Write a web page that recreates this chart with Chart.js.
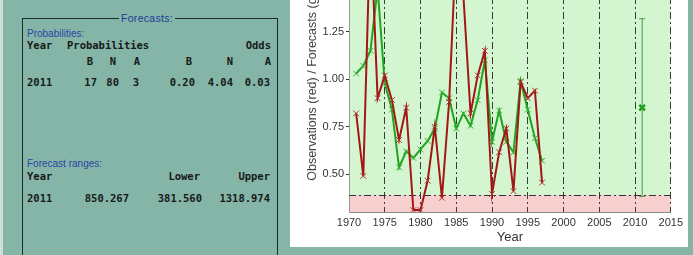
<!DOCTYPE html>
<html>
<head>
<meta charset="utf-8">
<script src="https://cdn.jsdelivr.net/npm/chart.js@4.4.1/dist/chart.umd.min.js"></script>
<style>
  body { margin: 0; width: 693px; height: 255px; overflow: hidden; background: #85b5a7; position: relative; }
  .strip { position: absolute; left: 0; top: 0; width: 3px; height: 255px; background: #d3dcd8; }
  .box { position: absolute; left: 22px; top: 18px; width: 254px; height: 260px; border: 1px solid #1f2c2c; }
  .t { position: absolute; white-space: pre; line-height: 12px; }
  .lab { font: 10px "Liberation Sans", Arial, sans-serif; color: #2a46a6; }
  .mono { font: bold 10.5px "DejaVu Sans Mono", monospace; color: #151a1a; }
  .head { font: 10.5px "Liberation Sans", Arial, sans-serif; color: #1c3c9c; background: #85b5a7; padding: 0 2px; letter-spacing: 0.3px; }
  .panel { position: absolute; left: 290px; top: 0; width: 398px; height: 247px; background: #fff; }
  .wrap { position: absolute; left: 290px; top: -73px; width: 398px; height: 317px; }
</style>
</head>
<body>
<div class="strip"></div>
<div class="box"></div>
<div class="panel"></div>
<div class="wrap"><canvas id="chart" width="398" height="317"></canvas></div>
<script>
// hindcast period
const years = [1971, 1972, 1973, 1974, 1975, 1976, 1977, 1978, 1979, 1980,
               1981, 1982, 1983, 1984, 1985, 1986, 1987, 1988, 1989, 1990,
               1991, 1992, 1993, 1994, 1995, 1996, 1997];
// observations (red), thousands
const observed = [0.82, 0.49, 1.83, 0.90, 1.02, 0.89, 0.68, 0.85, 0.31, 0.31,
                  0.465, 0.75, 0.375, 0.88, 1.72, 1.44, 0.82, 1.02, 1.15, 0.395,
                  0.615, 0.74, 0.41, 0.985, 0.90, 0.94, 0.455];
// forecasts (green)
const hindcast = [1.03, 1.07, 1.15, 1.48, 0.98, 0.84, 0.535, 0.62, 0.585, 0.63,
                  0.675, 0.74, 0.93, 0.90, 0.74, 0.82, 0.755, 0.89, 1.10, 0.67,
                  0.835, 0.67, 0.615, 0.99, 0.84, 0.69, 0.57];
// forecast for 2011 with range
const forecastYear = [2011];
const forecastMid = [0.850267];
const forecastLow = [0.381560];
const forecastHigh = [1.318974];
const threshold = 0.39;

const xTicks = [1970, 1975, 1980, 1985, 1990, 1995, 2000, 2005, 2010, 2015];
const yTicks = [0.50, 0.75, 1.00, 1.25];

// left panel texts: [text, x, y, align, class]
const texts = [
  ['Forecasts:', 147, 18, 'c', 'head'],
  ['Probabilities:', 27, 34, 'l', 'lab'],
  ['Year', 27, 45, 'l', 'mono'], ['Probabilities', 67, 45, 'l', 'mono'], ['Odds', 271, 45, 'r', 'mono'],
  ['B', 93, 61, 'r', 'mono'], ['N', 116, 61, 'r', 'mono'], ['A', 140, 61, 'r', 'mono'],
  ['B', 192, 61, 'r', 'mono'], ['N', 233, 61, 'r', 'mono'], ['A', 271, 61, 'r', 'mono'],
  ['2011', 27, 82, 'l', 'mono'], ['17', 97, 82, 'r', 'mono'], ['80', 119, 82, 'r', 'mono'],
  ['3', 139, 82, 'r', 'mono'], ['0.20', 195, 82, 'r', 'mono'], ['4.04', 233, 82, 'r', 'mono'],
  ['0.03', 270, 82, 'r', 'mono'],
  ['Forecast ranges:', 27, 164, 'l', 'lab'],
  ['Year', 27, 176, 'l', 'mono'], ['Lower', 200, 176, 'r', 'mono'], ['Upper', 270, 176, 'r', 'mono'],
  ['2011', 27, 198, 'l', 'mono'], ['850.267', 129, 198, 'r', 'mono'],
  ['381.560', 202, 198, 'r', 'mono'], ['1318.974', 270, 198, 'r', 'mono']
];
texts.forEach(([s, x, y, a, cls]) => {
  const d = document.createElement('div');
  d.className = 't ' + cls;
  d.textContent = s;
  d.style.top = (y - 6) + 'px';
  if (a === 'l') d.style.left = x + 'px';
  else if (a === 'r') d.style.right = (693 - x) + 'px';
  else { d.style.left = x + 'px'; d.style.transform = 'translateX(-50%)'; }
  document.body.appendChild(d);
});

const dashDot = [7, 3, 2, 3];

const bands = {
  id: 'bands',
  beforeDraw(chart) {
    const {ctx, chartArea: a, scales: {y}} = chart;
    const ty = y.getPixelForValue(threshold);
    ctx.save();
    ctx.fillStyle = '#d3f6d0';
    ctx.fillRect(a.left, a.top, a.right - a.left, ty - a.top);
    ctx.fillStyle = '#f8cfcf';
    ctx.fillRect(a.left, ty, a.right - a.left, a.bottom - ty);
    ctx.restore();
  },
  beforeDatasetsDraw(chart) {
    const {ctx, chartArea: a, scales: {y}} = chart;
    const ty = Math.round(y.getPixelForValue(threshold)) + 0.5;
    ctx.save();
    ctx.strokeStyle = '#333';
    ctx.lineWidth = 1;
    ctx.setLineDash(dashDot);
    ctx.beginPath();
    ctx.moveTo(a.left, ty);
    ctx.lineTo(a.right, ty);
    ctx.stroke();
    ctx.restore();
  }
};

Chart.defaults.font.family = '"Liberation Sans", Arial, sans-serif';
Chart.defaults.color = '#333';

new Chart(document.getElementById('chart'), {
  type: 'line',
  data: {
    datasets: [{
      data: years.map((yr, i) => ({x: yr, y: observed[i]})),
      borderColor: '#a31616',
      borderWidth: 2,
      pointStyle: 'crossRot',
      pointRadius: 4,
      pointBorderWidth: 1,
      pointBorderColor: '#b03030'
    }, {
      data: years.map((yr, i) => ({x: yr, y: hindcast[i]})),
      borderColor: '#1fa51f',
      borderWidth: 2,
      pointStyle: 'crossRot',
      pointRadius: 4,
      pointBorderWidth: 1,
      pointBorderColor: '#33b033'
    }, {
      data: forecastYear.flatMap((yr, i) => [{x: yr, y: forecastLow[i]}, {x: yr, y: forecastHigh[i]}]),
      borderColor: '#4a954a',
      borderWidth: 1,
      pointStyle: 'line',
      pointRadius: 3,
      pointBorderWidth: 1,
      pointBorderColor: '#4a954a'
    }, {
      data: forecastYear.map((yr, i) => ({x: yr, y: forecastMid[i]})),
      showLine: false,
      pointStyle: 'crossRot',
      pointRadius: 4,
      pointBorderWidth: 2.5,
      pointBorderColor: '#17a017'
    }]
  },
  options: {
    responsive: false,
    animation: false,
    layout: {padding: {top: 10, right: 17, left: 0, bottom: 0}},
    plugins: {legend: {display: false}, tooltip: {enabled: false}},
    scales: {
      x: {
        type: 'linear',
        min: 1970,
        max: 2015,
        afterBuildTicks: s => { s.ticks = xTicks.map(v => ({value: v})); },
        ticks: {padding: 5, font: {size: 11, lineHeight: 1}, color: '#333',
                callback: v => String(v)},
        grid: {
          drawTicks: false,
          color: c => (c.tick && c.tick.value === 1970) ? 'rgba(0,0,0,0)' : '#3a3a3a'
        },
        border: {display: true, color: '#8a8a8a', dash: dashDot},
        title: {display: true, text: 'Year', font: {size: 13, lineHeight: 1},
                color: '#333', padding: {top: -2, bottom: 0}}
      },
      y: {
        min: 0.30,
        max: 1.75,
        afterBuildTicks: s => { s.ticks = yTicks.map(v => ({value: v})); },
        afterFit: s => { s.width = 59; },
        ticks: {padding: 2, font: {size: 11}, color: '#333',
                callback: v => Number(v).toFixed(2)},
        grid: {drawOnChartArea: false, drawTicks: true, tickLength: 3, tickColor: '#333'},
        border: {display: true, color: '#9a9a9a'},
        title: {display: true, text: 'Observations (red) / Forecasts (green)',
                font: {size: 12.5}, color: '#444', padding: {top: 15.5, bottom: 0}}
      }
    }
  },
  plugins: [bands]
});
</script>
</body>
</html>
